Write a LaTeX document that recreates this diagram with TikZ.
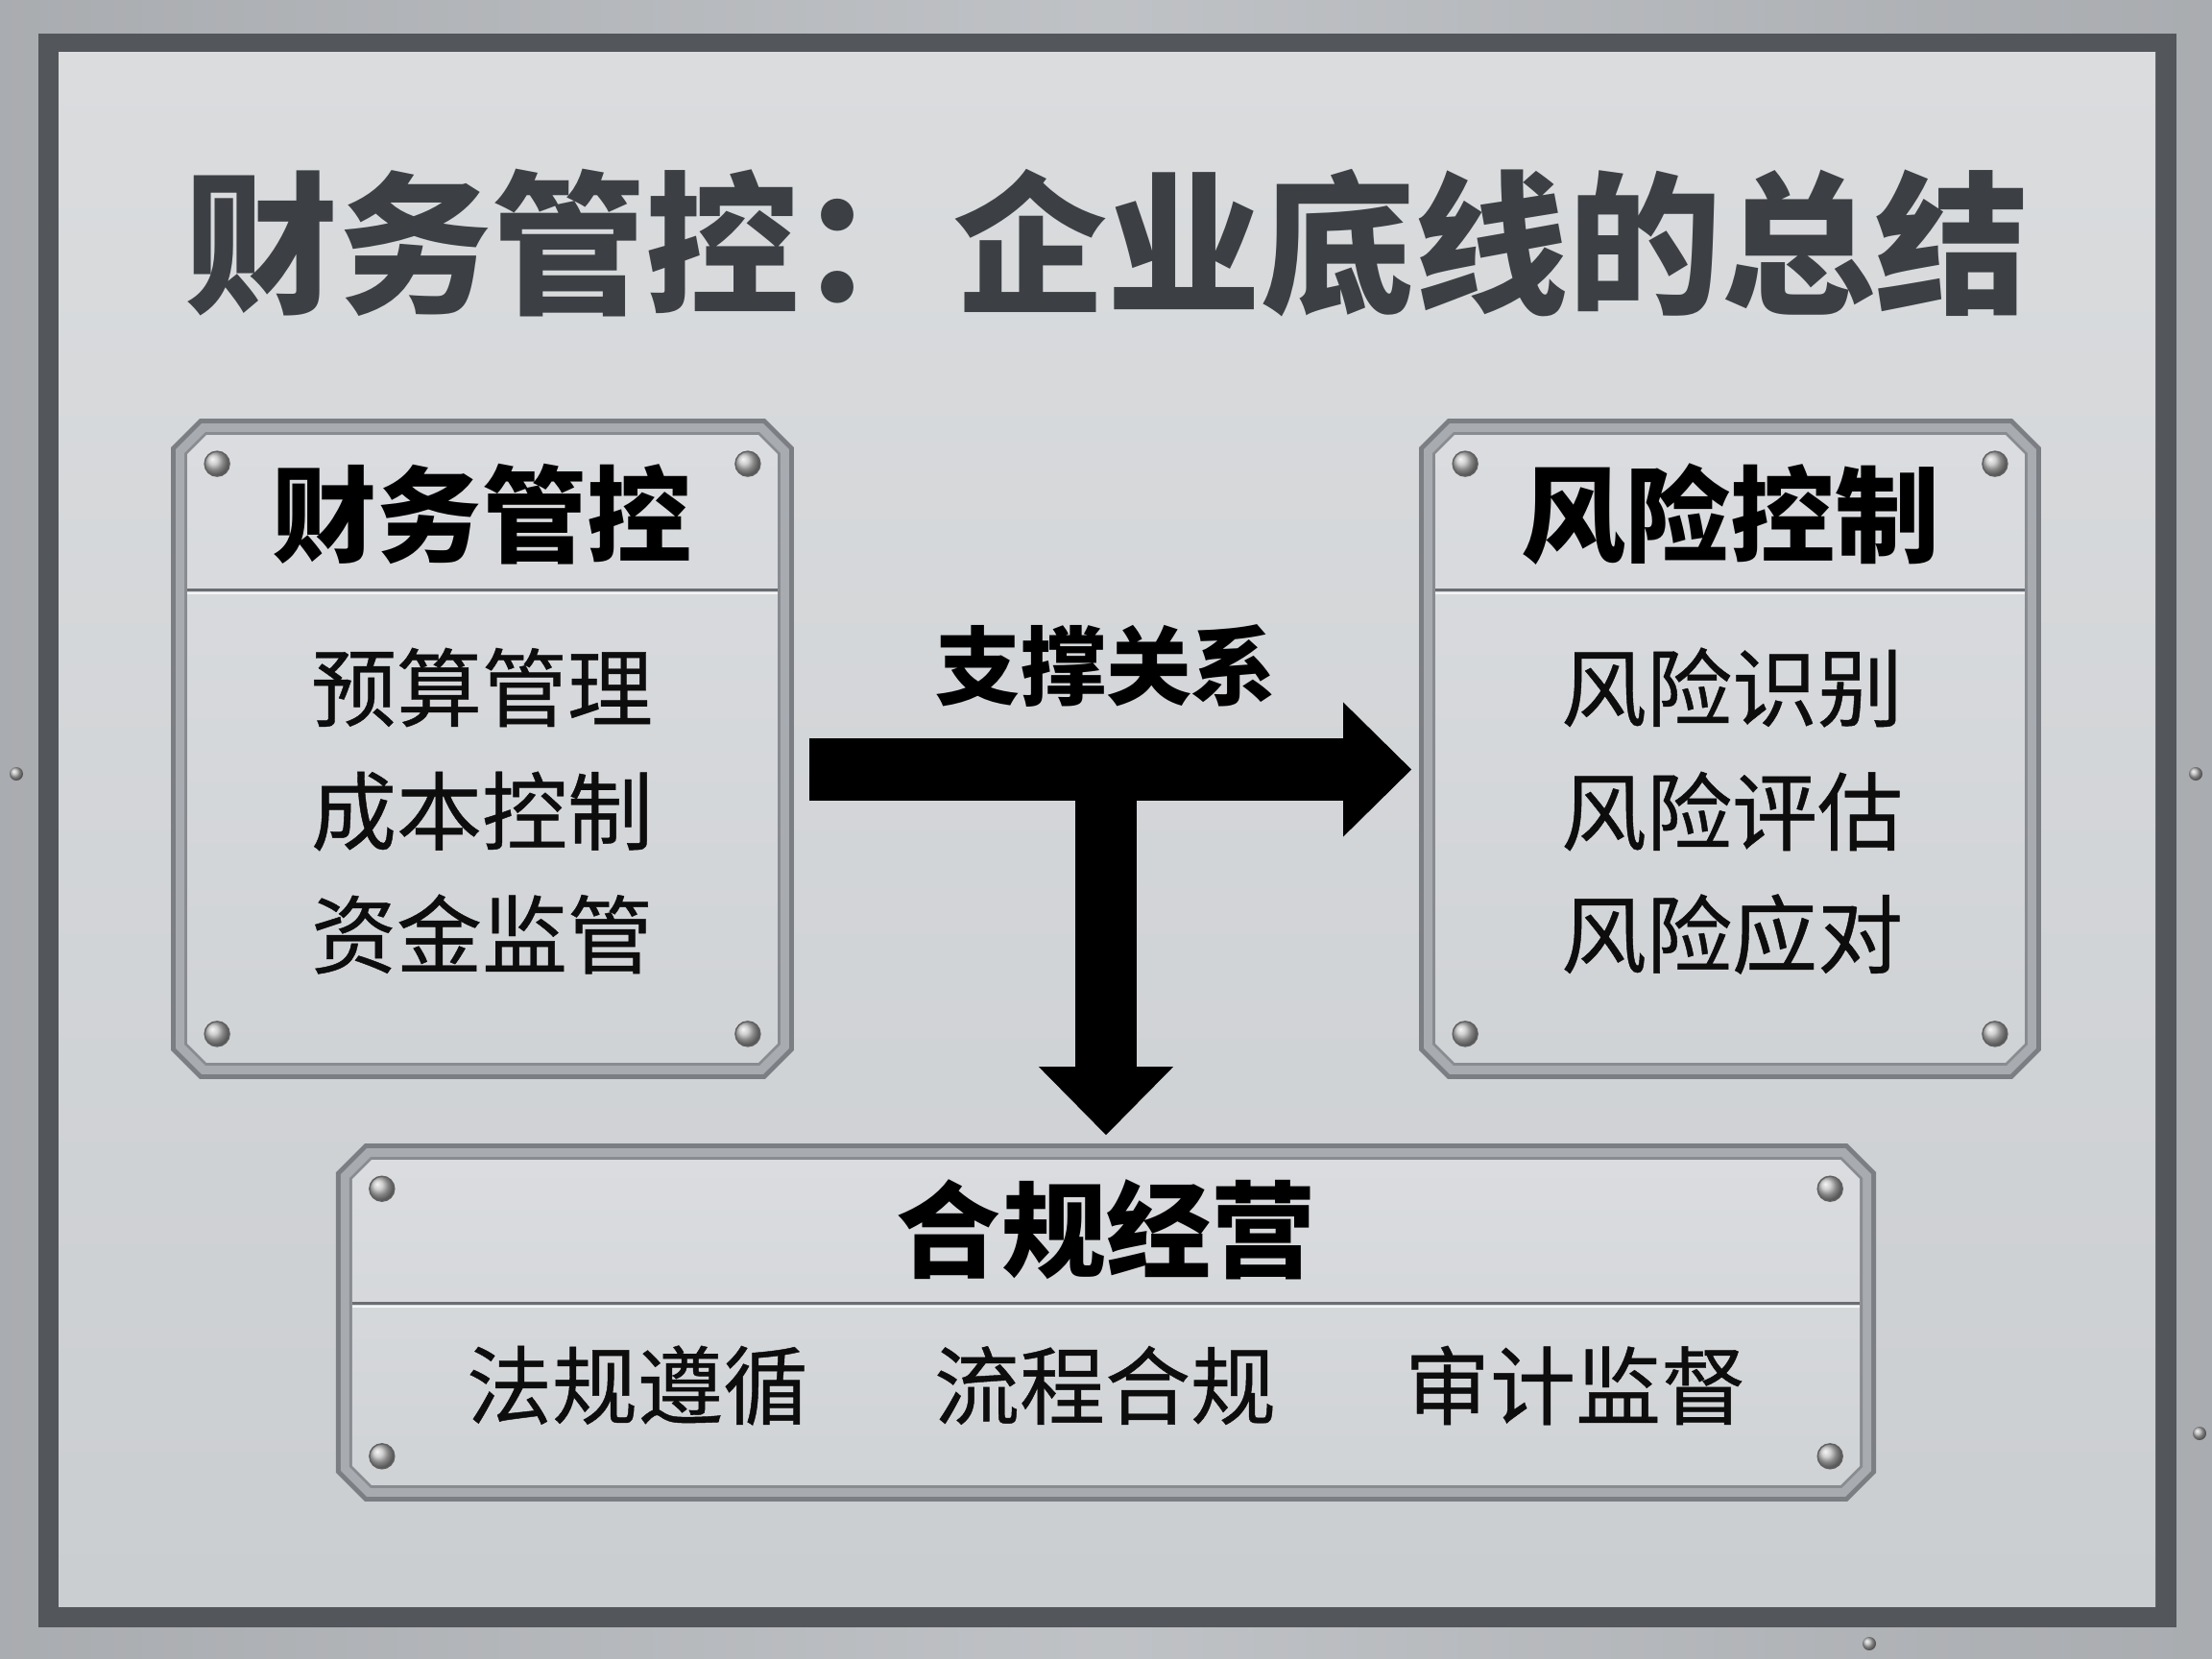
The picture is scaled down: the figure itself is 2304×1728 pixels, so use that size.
\documentclass[tikz,border=0pt]{standalone}
\usepackage{fontspec}
\newfontfamily\cjk{Noto Sans CJK SC}
\newfontfamily\cjkmed[FakeBold=0.5]{Noto Sans CJK SC}
\usetikzlibrary{calc,arrows.meta}
\definecolor{bgout}{HTML}{B8BBBF}
\definecolor{framec}{HTML}{53565B}
\definecolor{platetop}{HTML}{DADCDE}
\definecolor{platemid}{HTML}{E6E8EA}
\definecolor{platebot}{HTML}{CBCED1}
\definecolor{titlegray}{HTML}{3C3F44}
\definecolor{bandA}{HTML}{7B7E83}
\definecolor{bandB}{HTML}{A8ABAF}
\definecolor{bandC}{HTML}{888B90}
\definecolor{facetop}{HTML}{DADCDF}
\definecolor{facemid}{HTML}{F0F2F3}
\definecolor{facebot}{HTML}{D0D3D6}
\definecolor{sepline}{HTML}{6A6D72}
\newcommand\champath[3]{($(#1.north west)+(#2+#3,#2)$) -- ($(#1.north east)+(-#2-#3,#2)$) -- ($(#1.north east)+(-#2,#2+#3)$) -- ($(#1.south east)+(-#2,-#2-#3)$) -- ($(#1.south east)+(-#2-#3,-#2)$) -- ($(#1.south west)+(#2+#3,-#2)$) -- ($(#1.south west)+(#2,-#2-#3)$) -- ($(#1.north west)+(#2,#2+#3)$) -- cycle}
\newcommand\rivet[1]{\shade[ball color=gray!50] (#1) circle (13);\draw[gray!75!black,line width=0.4pt] (#1) circle (13);}
\newcommand\drawplate[2]{%
  \fill[bandA] \champath{#1}{0}{30};
  \fill[bandB] \champath{#1}{5}{27};
  \fill[bandC] \champath{#1}{14}{22};
  \shade[top color=facetop,middle color=facemid,bottom color=facebot] \champath{#1}{17}{20};
  \draw[sepline,line width=0.9pt] ($(#1.north west)+(17,#2)$) -- ($(#1.north east)+(-17,#2)$);
  \draw[white!92!gray,line width=0.6pt] ($(#1.north west)+(17,#2+4)$) -- ($(#1.north east)+(-17,#2+4)$);
  \rivet{$(#1.north west)+(48,47)$}
  \rivet{$(#1.north east)+(-48,47)$}
  \rivet{$(#1.south west)+(48,-47)$}
  \rivet{$(#1.south east)+(-48,-47)$}
}
\tikzset{
  platenode/.style={draw=none,inner sep=0,rectangle},
  titletext/.style={font=\cjk\bfseries\fontsize{45.5pt}{50pt}\selectfont,text=titlegray,inner sep=0},
  headtext/.style={font=\cjk\bfseries\fontsize{31pt}{34pt}\selectfont,text=black,inner sep=0},
  itemtext/.style={font=\cjkmed\fontsize{25.3pt}{28pt}\selectfont,text=black!95,inner sep=0},
  labeltext/.style={font=\cjk\bfseries\fontsize{25.3pt}{28pt}\selectfont,text=black,inner sep=0},
  bigarrow/.style={line width=0.64cm,-{Triangle[length=0.71cm,width=1.4cm,line width=0pt]}}
}
\begin{document}
\begin{tikzpicture}[x=0.01cm,y=-0.01cm]
\useasboundingbox (0,0) rectangle (2304,1728);
% background and frame
\shade[left color=bgout!92!black,right color=bgout!92!black,middle color=bgout!90!white] (0,0) rectangle (2304,1728);
\fill[framec] (40,35) rectangle (2267,1695);
\shade[top color=platetop,middle color=platemid,bottom color=platebot] (61,55) rectangle (2245,1673);
\foreach \p in {(17,806),(2287,806),(2291,1493),(1947,1712)}{\shade[ball color=gray!60] \p circle (7);}
% title
\node[titletext] (title) at (1153,253) {财务管控：企业底线的总结};
% plates
\node[platenode,minimum width=6.47cm,minimum height=6.86cm] (fin) at (502.5,780) {};
\node[platenode,minimum width=6.46cm,minimum height=6.86cm] (risk) at (1802,780) {};
\node[platenode,minimum width=16.02cm,minimum height=3.71cm] (comp) at (1152,1377.5) {};
\drawplate{fin}{178}
\drawplate{risk}{178}
\drawplate{comp}{166}
% left plate text
\node[headtext] (finh) at (502,536) {财务管控};
\node[itemtext] (fin1) at (502,716) {预算管理};
\node[itemtext] (fin2) at (502,845) {成本控制};
\node[itemtext] (fin3) at (502,973) {资金监管};
% right plate text
\node[headtext] (riskh) at (1802,536) {风险控制};
\node[itemtext] (risk1) at (1804,716) {风险识别};
\node[itemtext] (risk2) at (1804,845) {风险评估};
\node[itemtext] (risk3) at (1804,973) {风险应对};
% bottom plate text
\node[headtext] (comph) at (1152,1281) {合规经营};
\node[itemtext] (comp1) at (664,1443) {法规遵循};
\node[itemtext] (comp2) at (1151,1443) {流程合规};
\node[itemtext] (comp3) at (1641,1443) {审计监督};
% arrows
\node[labeltext] (rel) at (1152,694) {支撑关系};
\coordinate (hs) at ($(fin.east)+(16,21.5)$);
\coordinate (he) at ($(risk.west)+(-8,21.5)$);
\coordinate (vs) at (hs -| comp.north);
\coordinate (ve) at ($(comp.north)+(0,-9)$);
\draw[bigarrow] (vs) -- (ve);
\draw[bigarrow] (hs) -- (he);
\end{tikzpicture}
\end{document}
